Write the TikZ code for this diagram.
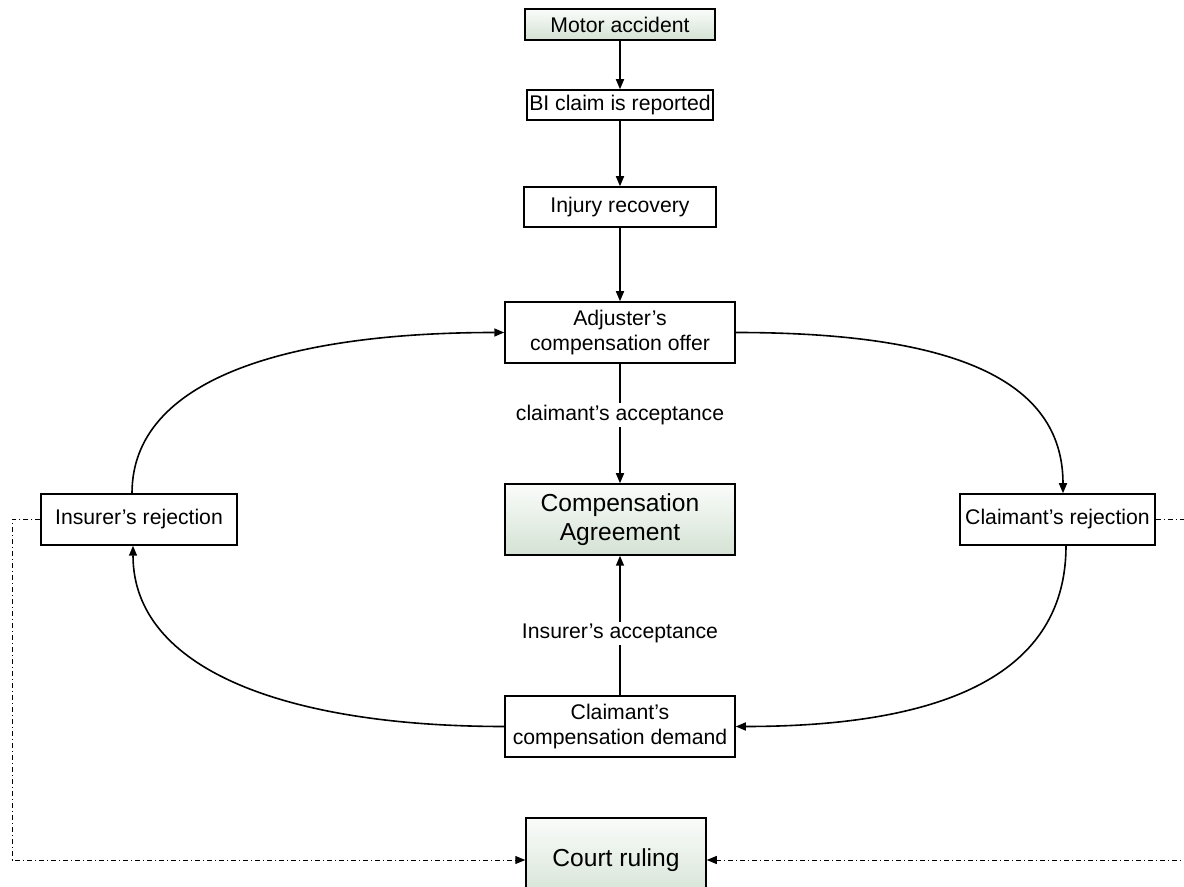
\documentclass[tikz,border=0pt]{standalone}
\usepackage{fontspec}
\setmainfont{Liberation Sans}
\usetikzlibrary{arrows.meta,positioning}

\definecolor{boxtop}{RGB}{250,252,250}
\definecolor{boxbot}{RGB}{212,226,212}

\tikzset{
	box/.style={draw, line width=0.75pt, inner sep=1pt, align=center, font=\fontsize{10.6}{12.6}\selectfont},
	shadebox/.style={box, top color=boxtop, bottom color=boxbot},
	bigtext/.style={font=\fontsize{12.3}{14.7}\selectfont},
	lbl/.style={fill=white, inner sep=1pt, font=\fontsize{10.6}{12.6}\selectfont},
	flow/.style={line width=0.8pt, -{Triangle[length=5pt,width=4pt]}},
	courtline/.style={line width=0.5pt, dash pattern=on 2.5pt off 1.5pt on 0.5pt off 1.5pt, -{Triangle[length=5pt,width=4pt]}}
}

\begin{document}
\begin{tikzpicture}[x=0.5pt,y=-0.5pt]
	\useasboundingbox (0,0) rectangle (1184,887);
	\clip (0,0) rectangle (1184,887);
	% claim path
	\node[shadebox, minimum width=95pt, minimum height=15.5pt] (accident) at (620,24.5) {Motor accident};
	\node[box, minimum width=93pt, minimum height=15pt] (reported) at (620,105) {BI claim is reported};
	\node[box, minimum width=96pt, minimum height=20pt] (recovery) at (620,207) {Injury recovery};
	\node[box, minimum width=115pt, minimum height=30.5pt] (offer) at (620,332.5) {Adjuster’s\\compensation offer};
	\node[shadebox, bigtext, minimum width=115pt, minimum height=35.5pt] (agreement) at (620,519.5) {Compensation\\Agreement};
	\node[box, minimum width=115pt, minimum height=30.5pt] (demand) at (620,726.5) {Claimant’s\\compensation demand};
	\node[box, minimum width=98pt, minimum height=25.5pt] (insrej) at (139,519.5) {Insurer’s rejection};
	\node[box, minimum width=97.5pt, minimum height=25.5pt] (clrej) at (1057.5,519.5) {Claimant’s rejection};
	\node[shadebox, bigtext, minimum width=90pt, minimum height=42pt] (ruling) at (616,860) {Court ruling};
	\coordinate (leftrail) at (12,0);
	\coordinate (rightrail) at (1200,0);

	\draw[flow] (accident) -- (reported);
	\draw[flow] (reported) -- (recovery);
	\draw[flow] (recovery) -- (offer);
	\draw[flow] (offer) -- node[lbl, pos=0.43] {claimant’s acceptance} (agreement);
	\draw[flow] (demand) -- node[lbl, pos=0.44] {Insurer’s acceptance} (agreement);
	% negotiation loop
	\draw[flow] ([xshift=-3.5pt]insrej.north) .. controls +(0,-115) and +(-215,0) .. (offer.west);
	\draw[flow] (offer.east) .. controls +(215,0) and +(0,-115) .. ([xshift=2.75pt]clrej.north);
	\draw[flow] ([xshift=4.25pt]clrej.south) .. controls +(0,125) and +(215,0) .. (demand.east);
	\draw[flow] (demand.west) .. controls +(-215,0) and +(0,125) .. ([xshift=-3pt]insrej.south);
	% to court
	\draw[courtline] (insrej.west) -- (insrej.west -| leftrail) |- (ruling.west);
	\draw[courtline] (clrej.east) -- (clrej.east -| rightrail) |- (ruling.east);
\end{tikzpicture}
\end{document}
